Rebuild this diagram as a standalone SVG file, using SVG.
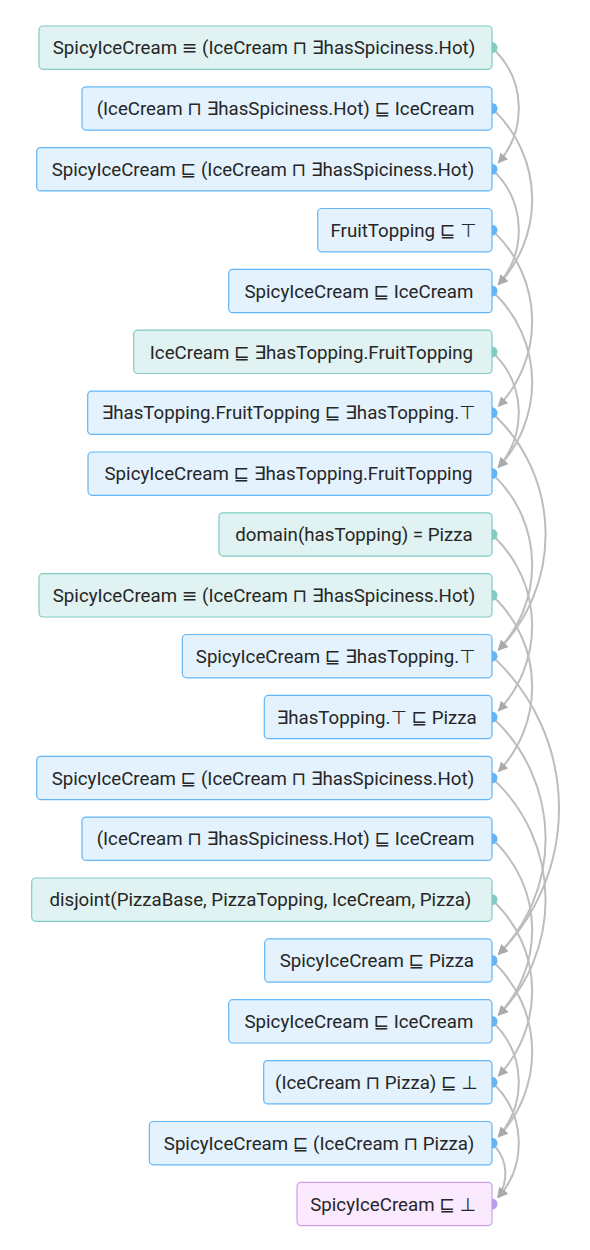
<svg xmlns="http://www.w3.org/2000/svg" width="590" height="1250" viewBox="0 0 590 1250">
<defs>
<style>
.box{stroke-width:1.2}
.g rect{fill:#e0f2f1;stroke:#80cbc4}
.g circle{fill:#80cbc4}
.b rect{fill:#e3f2fd;stroke:#64b5f6}
.b circle{fill:#64b5f6}
.p rect{fill:#fbe9fe;stroke:#c9a0f0}
.p circle{fill:#b79ef0}
text{font-family:Roboto,"DejaVu Sans",sans-serif;font-size:18.7px;font-weight:400;fill:#262626;text-anchor:middle}
.e path{fill:none;stroke:#bdbdbd;stroke-width:2;marker-end:url(#arr)}
</style>
<marker id="arr" viewBox="0 0 10 10" refX="9" refY="5" markerWidth="11" markerHeight="10" markerUnits="userSpaceOnUse" orient="auto">
<path d="M0,0 L10,5 L0,10 z" fill="#aaaaaa"/>
</marker>
</defs>
<rect width="590" height="1250" fill="#ffffff"/>
<g id="connectors" class="e">
<path d="M495.59,51.01 A82.54,82.54 0 0 1 498.29,162.80"/>
<path d="M495.64,111.87 A123.8,123.8 0 0 1 498.42,284.63"/>
<path d="M495.59,172.75 A82.54,82.54 0 0 1 498.29,284.54"/>
<path d="M495.64,233.61 A123.8,123.8 0 0 1 498.42,406.37"/>
<path d="M495.64,294.48 A123.8,123.8 0 0 1 498.42,467.24"/>
<path d="M495.59,355.36 A82.54,82.54 0 0 1 498.29,467.15"/>
<path d="M495.66,416.17 A165.09,165.09 0 0 1 498.49,649.92"/>
<path d="M495.64,477.09 A123.8,123.8 0 0 1 498.42,649.85"/>
<path d="M495.64,537.96 A123.8,123.8 0 0 1 498.42,710.72"/>
<path d="M495.64,598.83 A123.8,123.8 0 0 1 498.42,771.59"/>
<path d="M495.68,659.62 A206.38,206.38 0 0 1 498.51,954.31"/>
<path d="M495.66,720.52 A165.09,165.09 0 0 1 498.49,954.27"/>
<path d="M495.66,781.39 A165.09,165.09 0 0 1 498.49,1015.14"/>
<path d="M495.64,842.31 A123.8,123.8 0 0 1 498.42,1015.07"/>
<path d="M495.64,903.18 A123.8,123.8 0 0 1 498.42,1075.94"/>
<path d="M495.64,964.05 A123.8,123.8 0 0 1 498.42,1136.81"/>
<path d="M495.59,1024.93 A82.54,82.54 0 0 1 498.29,1136.72"/>
<path d="M495.59,1085.80 A82.54,82.54 0 0 1 498.29,1197.59"/>
<path d="M495.47,1146.80 A41.22,41.22 0 0 1 497.92,1197.24"/>
</g>
<g id="n1" class="g"><circle cx="492" cy="47.6" r="5.5"/><rect class="box" x="39" y="26" width="453" height="43.3" rx="4"/><text x="264" y="54.2">SpicyIceCream ≡ (IceCream ⊓ ∃hasSpiciness.Hot)</text></g>
<g id="n2" class="b"><circle cx="492" cy="108.5" r="5.5"/><rect class="box" x="82" y="86.8" width="410" height="43.3" rx="4"/><text x="285.5" y="115.1">(IceCream ⊓ ∃hasSpiciness.Hot) ⊑ IceCream</text></g>
<g id="n3" class="b"><circle cx="492" cy="169.3" r="5.5"/><rect class="box" x="36.7" y="147.6" width="455.3" height="43.3" rx="4"/><text x="262.9" y="175.9">SpicyIceCream ⊑ (IceCream ⊓ ∃hasSpiciness.Hot)</text></g>
<g id="n4" class="b"><circle cx="492" cy="230.2" r="5.5"/><rect class="box" x="317.7" y="208.5" width="174.3" height="43.3" rx="4"/><text x="403.4" y="236.8">FruitTopping ⊑ ⊤</text></g>
<g id="n5" class="b"><circle cx="492" cy="291" r="5.5"/><rect class="box" x="228.7" y="269.4" width="263.3" height="43.3" rx="4"/><text x="358.9" y="297.6">SpicyIceCream ⊑ IceCream</text></g>
<g id="n6" class="g"><circle cx="492" cy="351.9" r="5.5"/><rect class="box" x="133.7" y="330.2" width="358.3" height="43.3" rx="4"/><text x="311.4" y="358.5">IceCream ⊑ ∃hasTopping.FruitTopping</text></g>
<g id="n7" class="b"><circle cx="492" cy="412.8" r="5.5"/><rect class="box" x="87.7" y="391.1" width="404.3" height="43.3" rx="4"/><text x="288.4" y="419.4">∃hasTopping.FruitTopping ⊑ ∃hasTopping.⊤</text></g>
<g id="n8" class="b"><circle cx="492" cy="473.6" r="5.5"/><rect class="box" x="88" y="452" width="404" height="43.3" rx="4"/><text x="288.5" y="480.2">SpicyIceCream ⊑ ∃hasTopping.FruitTopping</text></g>
<g id="n9" class="g"><circle cx="492" cy="534.5" r="5.5"/><rect class="box" x="219" y="512.8" width="273" height="43.3" rx="4"/><text x="354" y="541.1">domain(hasTopping) = Pizza</text></g>
<g id="n10" class="g"><circle cx="492" cy="595.3" r="5.5"/><rect class="box" x="39" y="573.7" width="453" height="43.3" rx="4"/><text x="264" y="601.9">SpicyIceCream ≡ (IceCream ⊓ ∃hasSpiciness.Hot)</text></g>
<g id="n11" class="b"><circle cx="492" cy="656.2" r="5.5"/><rect class="box" x="182.3" y="634.5" width="309.7" height="43.3" rx="4"/><text x="335.6" y="662.8">SpicyIceCream ⊑ ∃hasTopping.⊤</text></g>
<g id="n12" class="b"><circle cx="492" cy="717.1" r="5.5"/><rect class="box" x="264.3" y="695.4" width="227.7" height="43.3" rx="4"/><text x="376.6" y="723.7">∃hasTopping.⊤ ⊑ Pizza</text></g>
<g id="n13" class="b"><circle cx="492" cy="777.9" r="5.5"/><rect class="box" x="36.7" y="756.3" width="455.3" height="43.3" rx="4"/><text x="262.9" y="784.5">SpicyIceCream ⊑ (IceCream ⊓ ∃hasSpiciness.Hot)</text></g>
<g id="n14" class="b"><circle cx="492" cy="838.8" r="5.5"/><rect class="box" x="82" y="817.1" width="410" height="43.3" rx="4"/><text x="285.5" y="845.4">(IceCream ⊓ ∃hasSpiciness.Hot) ⊑ IceCream</text></g>
<g id="n15" class="g"><circle cx="492" cy="899.7" r="5.5"/><rect class="box" x="31.7" y="878" width="460.3" height="43.3" rx="4"/><text x="260.4" y="906.3">disjoint(PizzaBase, PizzaTopping, IceCream, Pizza)</text></g>
<g id="n16" class="b"><circle cx="492" cy="960.5" r="5.5"/><rect class="box" x="264.7" y="938.9" width="227.3" height="43.3" rx="4"/><text x="376.8" y="967.1">SpicyIceCream ⊑ Pizza</text></g>
<g id="n17" class="b"><circle cx="492" cy="1021.4" r="5.5"/><rect class="box" x="228.7" y="999.7" width="263.3" height="43.3" rx="4"/><text x="358.9" y="1028">SpicyIceCream ⊑ IceCream</text></g>
<g id="n18" class="b"><circle cx="492" cy="1082.3" r="5.5"/><rect class="box" x="263.7" y="1060.6" width="228.3" height="43.3" rx="4"/><text x="376.3" y="1088.9">(IceCream ⊓ Pizza) ⊑ ⊥</text></g>
<g id="n19" class="b"><circle cx="492" cy="1143.2" r="5.5"/><rect class="box" x="149.3" y="1121.5" width="342.7" height="43.3" rx="4"/><text x="319.1" y="1149.8">SpicyIceCream ⊑ (IceCream ⊓ Pizza)</text></g>
<g id="n20" class="p"><circle cx="492" cy="1204" r="5.5"/><rect class="box" x="297" y="1182.3" width="195" height="43.3" rx="4"/><text x="393" y="1210.6">SpicyIceCream ⊑ ⊥</text></g>
</svg>
